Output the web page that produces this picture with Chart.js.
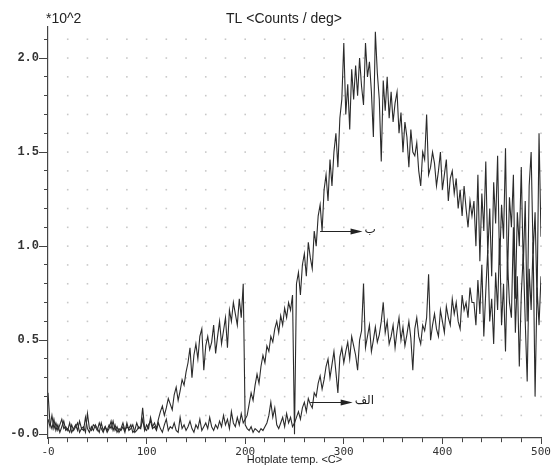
<!DOCTYPE html>
<html>
<head>
<meta charset="utf-8">
<script src="https://cdn.jsdelivr.net/npm/chart.js@4.4.0/dist/chart.umd.min.js"></script>
<style>
html, body { margin: 0; padding: 0; background: #fff; }
</style>
</head>
<body>
<canvas id="myChart" width="557" height="471"></canvas>
<script>
// hotplate temperature, one reading every 2 deg
var temps = [];
for (var t = 0; t <= 500; t += 2) temps.push(t);

// TL counts / deg (axis shows them *10^2)
var seriesAlef = [
  // 0 - 110
  22,6,3,8,2,5,1,4,7,2,
  3,1,5,2,4,6,1,3,2,9,
  3,1,4,2,5,3,1,6,2,4,
  1,3,7,2,5,1,3,2,4,1,
  6,2,3,5,1,2,4,3,8,2,
  5,3,9,4,6,3,
  // 112 - 200
  8,12,15,10,14,19,16,13,21,25,18,23,29,26,33,38,46,30,42,48,40,52,56,
  34,47,52,45,49,58,43,52,60,48,55,62,46,66,60,70,64,58,72,62,80,5,
  // 202 - 248
  3,2,4,1,3,2,1,3,2,4,6,10,17,9,14,5,3,6,9,4,11,6,9,4,
  // 250 - 270
  6,9,12,8,14,17,12,19,16,14,22,
  // 272 - 300
  20,27,31,24,29,36,40,30,37,44,33,22,41,46,38,
  // 302 - 340
  44,49,40,52,47,42,34,50,55,80,46,52,58,44,50,57,49,53,60,70,
  // 342 - 380
  54,60,48,52,58,46,55,62,50,57,47,53,60,51,34,56,62,52,48,58,
  // 382 - 430
  55,62,85,50,58,64,56,52,66,60,54,68,62,58,72,64,70,60,56,74,66,70,62,78,70,
  // 432 - 500
  70,58,82,64,90,52,76,98,60,72,48,86,66,104,58,80,44,92,70,62,
  110,54,84,36,74,96,60,28,88,66,102,20,78,58,84
];

var seriesBa = [
  // 0 - 200
  8,4,10,3,6,2,5,8,3,4,
  2,6,1,3,5,2,7,3,4,1,
  11,3,2,5,4,2,6,3,1,4,
  2,5,3,7,2,4,1,3,6,2,
  4,3,5,1,2,6,3,4,14,3,
  2,5,7,3,4,2,6,3,1,5,
  8,2,4,3,6,2,1,9,3,5,
  2,4,7,3,1,5,3,8,2,4,
  6,3,9,4,2,5,3,7,4,10,
  5,8,3,12,6,4,9,5,11,6,
  8,
  // 202 - 248
  10,16,22,18,26,32,27,36,42,38,47,44,52,49,56,60,54,63,58,67,62,70,66,74,
  // 250 - 430
  0,
  80,86,74,90,96,84,102,94,88,108,
  100,116,122,108,130,138,124,146,132,150,
  160,142,168,178,208,170,186,162,194,178,
  196,180,200,185,175,208,190,198,182,158,
  214,192,178,145,188,172,190,168,182,166,
  176,182,160,171,150,166,158,142,162,150,
  148,155,140,132,150,146,170,138,142,150,
  144,132,140,150,130,138,146,124,136,140,
  128,136,120,130,116,132,120,110,124,116,
  // 432 - 500
  124,100,138,92,128,108,145,96,120,84,
  134,112,148,90,122,104,152,82,126,110,
  138,72,118,100,142,88,124,60,132,150,
  96,118,70,160,105
];

var xTickValues = [0, 100, 200, 300, 400, 500];
var xTickLabels = ['-0', '100', '200', '300', '400', '500'];
var yTickValues = [0, 50, 100, 150, 200];
var yTickLabels = ['-0.0', '0.5', '1.0', '1.5', '2.0'];

// arrows pointing at the two curves
var noteLabels = ['\u0628', '\u0627\u0644\u0641'];
var noteStartX = [276, 266];
var noteEndX = [319, 309];
var noteY = [108, 17];

function points(vals) {
  return temps.map(function(t, i) { return { x: t, y: vals[i] }; });
}

var paper = {
  id: 'paper',
  beforeDatasetsDraw: function(chart) {
    var c = chart.ctx, xs = chart.scales.x, ys = chart.scales.y;
    c.save();
    c.fillStyle = '#c8c8c8';
    for (var gx = 20; gx <= 500; gx += 20) {
      for (var gy = 10; gy <= 210; gy += 10) {
        c.fillRect(xs.getPixelForValue(gx) - 0.8, ys.getPixelForValue(gy) - 0.8, 1.6, 1.6);
      }
    }
    c.restore();
  },
  afterDraw: function(chart) {
    var c = chart.ctx, xs = chart.scales.x, ys = chart.scales.y;
    c.save();
    c.fillStyle = '#222';
    c.textBaseline = 'middle';
    c.font = '14px "Liberation Sans"';
    c.textAlign = 'center';
    c.fillText('TL <Counts / deg>', 284, 19);
    c.textAlign = 'left';
    c.fillText('*10^2', 46, 19);

    c.strokeStyle = '#222';
    c.lineWidth = 1;
    for (var i = 0; i < noteLabels.length; i++) {
      var x0 = xs.getPixelForValue(noteStartX[i]);
      var x1 = xs.getPixelForValue(noteEndX[i]);
      var y = Math.round(ys.getPixelForValue(noteY[i])) + 0.5;
      c.beginPath();
      c.moveTo(x0, y);
      c.lineTo(x1 - 8, y);
      c.stroke();
      c.beginPath();
      c.moveTo(x1, y);
      c.lineTo(x1 - 12, y - 3);
      c.lineTo(x1 - 12, y + 3);
      c.closePath();
      c.fill();
      c.font = '12px "DejaVu Sans"';
      c.fillText(noteLabels[i], x1 + 2, y - 2);
    }
    c.restore();
  }
};

var ctx = document.getElementById('myChart').getContext('2d');
var myChart = new Chart(ctx, {
  type: 'line',
  data: {
    datasets: [{
      label: 'alef',
      data: points(seriesAlef),
      borderColor: '#2b2b2b',
      borderWidth: 1.1,
      pointRadius: 0,
      tension: 0
    }, {
      label: 'ba',
      data: points(seriesBa),
      borderColor: '#2b2b2b',
      borderWidth: 1.1,
      pointRadius: 0,
      tension: 0
    }]
  },
  options: {
    responsive: false,
    animation: false,
    layout: { padding: { top: 27, right: 16, left: 0, bottom: 0 } },
    plugins: { legend: { display: false }, tooltip: { enabled: false } },
    scales: {
      x: {
        type: 'linear',
        min: 0,
        max: 500,
        afterBuildTicks: function(s) {
          s.ticks = [];
          for (var v = 0; v <= 500; v += 20) s.ticks.push({ value: v });
        },
        afterFit: function(s) { s.height = 33; },
        ticks: {
          autoSkip: false,
          maxRotation: 0,
          padding: 2,
          color: '#333',
          font: { family: 'DejaVu Sans Mono', size: 11 },
          callback: function(v) {
            var k = xTickValues.indexOf(v);
            return k < 0 ? '' : xTickLabels[k];
          }
        },
        grid: {
          drawOnChartArea: false,
          color: '#444',
          tickLength: 6,
          tickBorderDash: function(c) {
            return (c.tick && c.tick.value % 100 === 0) ? [] : [4, 10];
          }
        },
        border: { color: '#444', width: 1.2 },
        title: {
          display: true,
          text: 'Hotplate temp. <C>',
          color: '#222',
          font: { family: 'Liberation Sans', size: 11 },
          padding: { top: 0, bottom: 4 }
        }
      },
      y: {
        min: -2,
        max: 216.5,
        afterBuildTicks: function(s) {
          s.ticks = [];
          for (var v = 0; v <= 210; v += 10) s.ticks.push({ value: v });
        },
        afterFit: function(s) { s.width = 48; },
        ticks: {
          autoSkip: false,
          padding: 0,
          color: '#333',
          font: { family: 'Liberation Mono', size: 12, weight: 'bold' },
          callback: function(v) {
            var k = yTickValues.indexOf(v);
            return k < 0 ? '' : yTickLabels[k];
          }
        },
        grid: {
          drawOnChartArea: false,
          color: '#444',
          tickLength: 9,
          tickBorderDash: function(c) {
            return (c.tick && c.tick.value % 50 === 0) ? [] : [0, 5, 4, 0];
          }
        },
        border: { color: '#444', width: 1.2 }
      }
    }
  },
  plugins: [paper]
});
</script>
</body>
</html>
